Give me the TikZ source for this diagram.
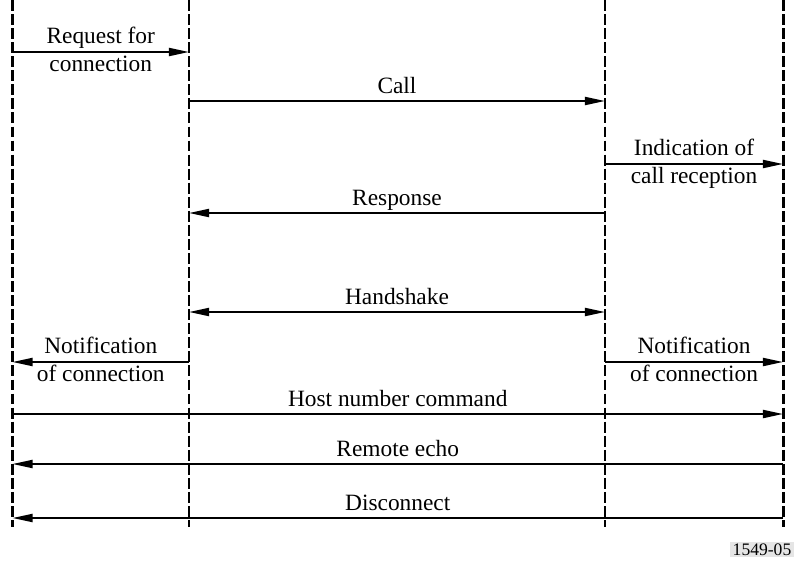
\documentclass[tikz,border=0pt]{standalone}
\usepackage{fontspec}
\setmainfont{Liberation Serif}
\usetikzlibrary{arrows.meta}

\begin{document}
\begin{tikzpicture}[x=0.02cm, y=-0.02cm,
        lifeline/.style={line width=1.7pt, dash pattern=on 6.2pt off 1.8pt},
        msg/.style={line width=1.1pt, -{Triangle[length=11.5pt,width=4.6pt]}},
        msgboth/.style={line width=1.1pt, {Triangle[length=11.5pt,width=4.6pt]}-{Triangle[length=11.5pt,width=4.6pt]}},
        lblup/.style={midway, anchor=base, yshift=4pt},
        lbltop/.style={midway, anchor=base, yshift=4.6pt},
        lblbot/.style={midway, anchor=base, yshift=-11pt},
        font=\fontsize{13.3}{16}\selectfont]
        \useasboundingbox (0,0) rectangle (795,566);

        % lifelines
        \coordinate (top1) at (12.5,0);
        \coordinate (top2) at (189,0);
        \coordinate (top3) at (605,0);
        \coordinate (top4) at (783,0);
        \coordinate (bot1) at (12.5,527);
        \coordinate (bot2) at (189,527);
        \coordinate (bot3) at (605,527);
        \coordinate (bot4) at (783,527);

        \draw[lifeline] (top1) -- (bot1);
        \draw[lifeline] (top2) -- (bot2);
        \draw[lifeline] (top3) -- (bot3);
        \draw[lifeline] (top4) -- (bot4);

        % message ends
        \coordinate (req1) at (12.5,52);
        \coordinate (req2) at (189,52);
        \coordinate (call1) at (189,101);
        \coordinate (call2) at (605,101);
        \coordinate (ind1) at (605,164);
        \coordinate (ind2) at (783,164);
        \coordinate (resp1) at (605,213);
        \coordinate (resp2) at (189,213);
        \coordinate (hand1) at (189,312);
        \coordinate (hand2) at (605,312);
        \coordinate (notl1) at (189,362);
        \coordinate (notl2) at (12.5,362);
        \coordinate (notr1) at (605,362);
        \coordinate (notr2) at (783,362);
        \coordinate (host1) at (12.5,414);
        \coordinate (host2) at (783,414);
        \coordinate (echo1) at (783,464);
        \coordinate (echo2) at (12.5,464);
        \coordinate (disc1) at (783,518);
        \coordinate (disc2) at (12.5,518);

        \draw[msg] (req1) -- (req2) node[lbltop] (reqa) {Request for} node[lblbot] (reqb) {connection};
        \draw[msg] (call1) -- (call2) node[lblup] (calla) {Call};
        \draw[msg] (ind1) -- (ind2) node[lbltop] (inda) {Indication of} node[lblbot] (indb) {call reception};
        \draw[msg] (resp1) -- (resp2) node[lblup] (respa) {Response};
        \draw[msgboth] (hand1) -- (hand2) node[lblup] (handa) {Handshake};
        \draw[msg] (notl1) -- (notl2) node[lbltop] (notla) {Notification} node[lblbot] (notlb) {of connection};
        \draw[msg] (notr1) -- (notr2) node[lbltop] (notra) {Notification} node[lblbot] (notrb) {of connection};
        \draw[msg] (host1) -- (host2) node[lblup] (hosta) {Host number command};
        \draw[msg] (echo1) -- (echo2) node[lblup] (echoa) {Remote echo};
        \draw[msg] (disc1) -- (disc2) node[lblup] (disca) {Disconnect};

        \node[fill=black!10, inner xsep=1.4pt, inner ysep=1pt, font=\fontsize{10}{11}\selectfont] (tag) at (762,549.5) {1549-05};
    \end{tikzpicture}
\end{document}
